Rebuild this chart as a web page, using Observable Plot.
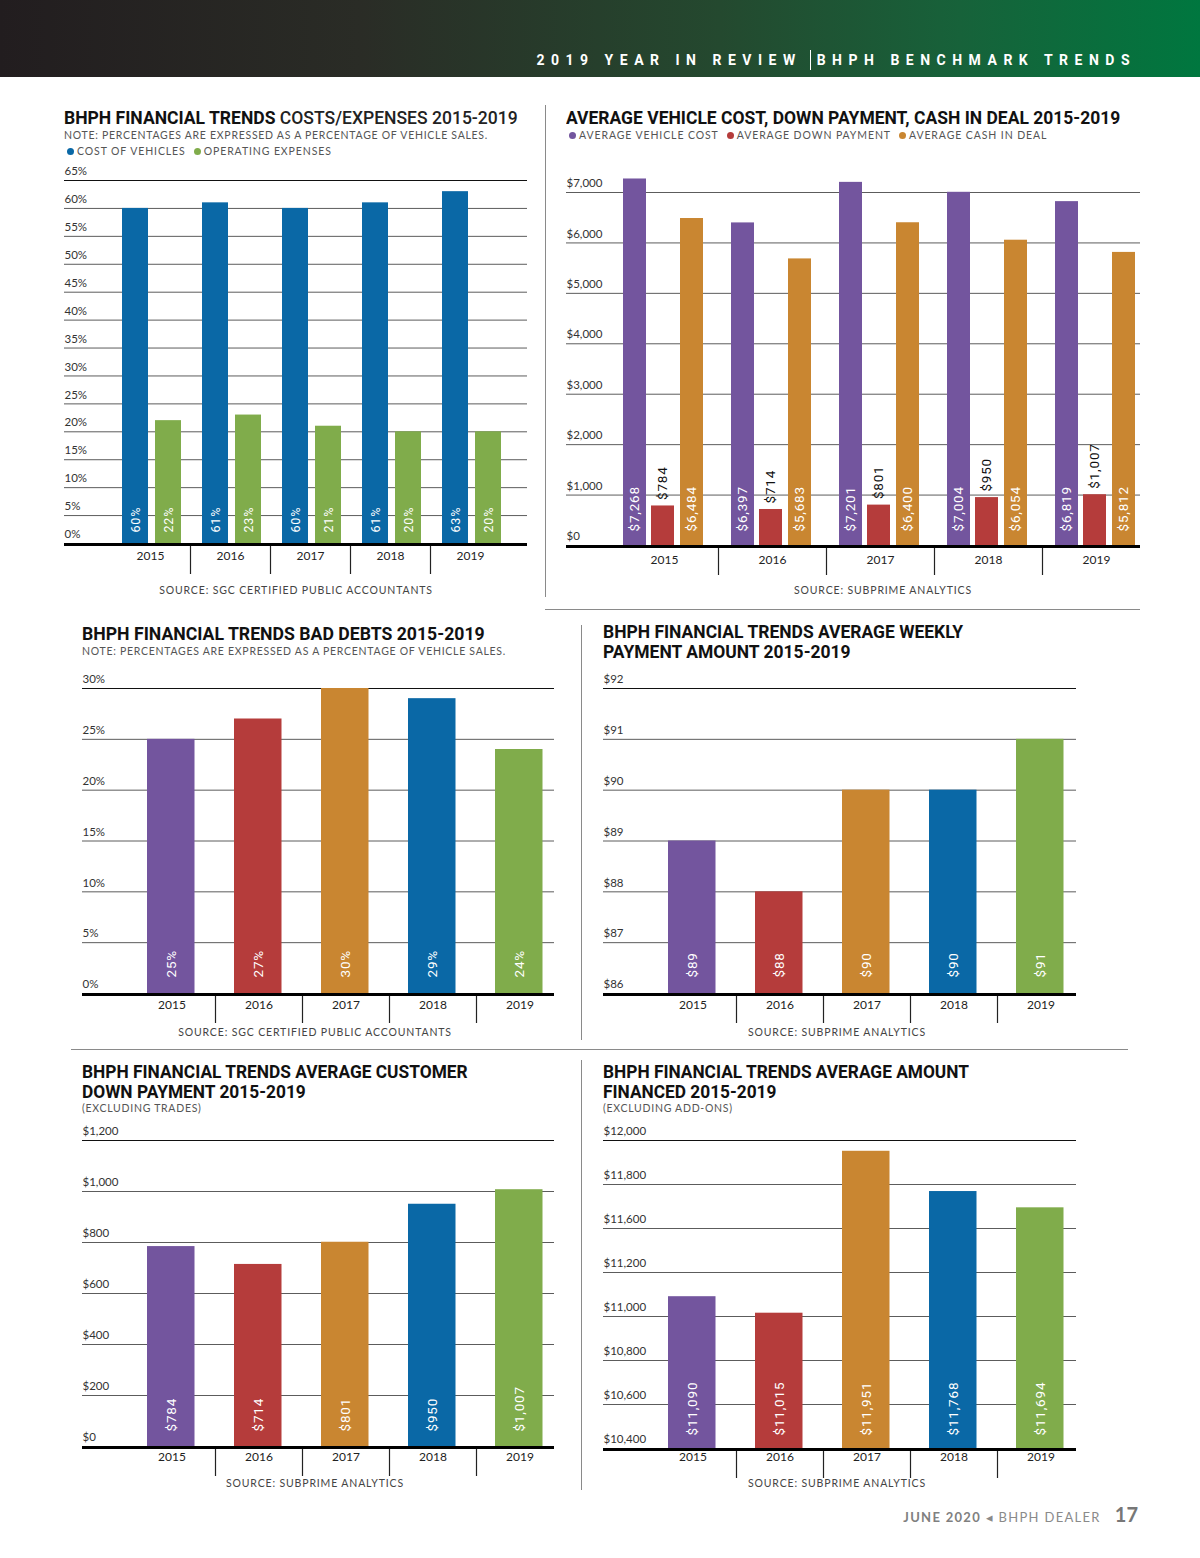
<!DOCTYPE html>
<html><head><meta charset="utf-8">
<script src="https://cdn.jsdelivr.net/npm/d3@7"></script>
<script src="https://cdn.jsdelivr.net/npm/@observablehq/plot@0.6"></script>
<style>
html,body{margin:0;padding:0;background:#fff}
body{width:1200px;height:1558px;position:relative;overflow:hidden;font-family:Lato,"Open Sans",sans-serif}
.abs{position:absolute;white-space:nowrap}
#header{left:0;top:0;width:1200px;height:77px;background:linear-gradient(90deg,#221d1f 0%,#2a2c26 30%,#24492f 60%,#17623a 80%,#00773f 100%)}
#hdrtext{right:64px;top:50px;color:#fff;font-family:Roboto,sans-serif;font-weight:bold;font-size:14px;letter-spacing:6.5px;line-height:16px}
#hdrtext .bar{display:inline-block;width:1px;height:20px;background:#fff;vertical-align:-5px;margin:0 6px 0 -2px}
.title{font-family:Roboto,sans-serif;font-weight:bold;color:#111;font-size:19px;line-height:20px;transform-origin:0 0}
.title .lt{font-weight:500;color:#222}
.note{font-size:10.5px;line-height:11px;color:#555;letter-spacing:0.72px}
.legend{font-size:10.5px;line-height:11px;color:#555;letter-spacing:0.9px}
.dot{display:inline-block;width:7px;height:7px;border-radius:50%;vertical-align:0px;margin-right:3px}
.src{font-size:10.5px;line-height:11px;color:#444;letter-spacing:0.85px;text-align:center}
.line{position:absolute;background:#8a8a8a}
#footer{right:62px;top:1504px;font-size:13px;line-height:20px;color:#8a8a8a;letter-spacing:1.3px}
#footer b{color:#808080}
#footer .pg{font-size:20px;font-weight:bold;color:#777;margin-left:14px;letter-spacing:0}
svg g[font-family*="Roboto"]{letter-spacing:0.8px}
</style></head>
<body>
<div id="header" class="abs"></div>
<div id="hdrtext" class="abs">2019 YEAR IN REVIEW <span class="bar"></span>BHPH BENCHMARK TRENDS</div>

<div class="abs title" data-w="454" style="left:64px;top:108px">BHPH FINANCIAL TRENDS <span class="lt">COSTS/EXPENSES 2015-2019</span></div>
<div class="abs note" style="left:64px;top:130px">NOTE: PERCENTAGES ARE EXPRESSED AS A PERCENTAGE OF VEHICLE SALES.</div>
<div class="abs legend" id="legend1" style="left:67px;top:146px"></div>
<div class="abs src" style="left:96px;width:400px;top:585px">SOURCE: SGC CERTIFIED PUBLIC ACCOUNTANTS</div>

<div class="abs title" data-w="554" style="left:566px;top:108px">AVERAGE VEHICLE COST, DOWN PAYMENT, CASH IN DEAL 2015-2019</div>
<div class="abs legend" id="legend2" style="left:569px;top:130px"></div>
<div class="abs src" style="left:683px;width:400px;top:585px">SOURCE: SUBPRIME ANALYTICS</div>

<div class="abs title" data-w="403" style="left:82px;top:624px;font-size:18px">BHPH FINANCIAL TRENDS BAD DEBTS 2015-2019</div>
<div class="abs note" style="left:82px;top:646px">NOTE: PERCENTAGES ARE EXPRESSED AS A PERCENTAGE OF VEHICLE SALES.</div>
<div class="abs src" style="left:115px;width:400px;top:1027px">SOURCE: SGC CERTIFIED PUBLIC ACCOUNTANTS</div>

<div class="abs title" data-w="360" style="left:603px;top:622px;font-size:18px">BHPH FINANCIAL TRENDS AVERAGE WEEKLY<br>PAYMENT AMOUNT 2015-2019</div>
<div class="abs src" style="left:637px;width:400px;top:1027px">SOURCE: SUBPRIME ANALYTICS</div>

<div class="abs title" data-w="386" style="left:82px;top:1062px;font-size:18px">BHPH FINANCIAL TRENDS AVERAGE CUSTOMER<br>DOWN PAYMENT 2015-2019</div>
<div class="abs note" style="left:82px;top:1103px">(EXCLUDING TRADES)</div>
<div class="abs src" style="left:115px;width:400px;top:1478px">SOURCE: SUBPRIME ANALYTICS</div>

<div class="abs title" data-w="366" style="left:603px;top:1062px;font-size:18px">BHPH FINANCIAL TRENDS AVERAGE AMOUNT<br>FINANCED 2015-2019</div>
<div class="abs note" style="left:603px;top:1103px">(EXCLUDING ADD-ONS)</div>
<div class="abs src" style="left:637px;width:400px;top:1478px">SOURCE: SUBPRIME ANALYTICS</div>

<div class="line" style="left:545px;top:105px;width:1px;height:492px"></div>
<div class="line" style="left:545px;top:609px;width:595px;height:1px"></div>
<div class="line" style="left:581px;top:625px;width:1px;height:415px"></div>
<div class="line" style="left:71px;top:1049px;width:1057px;height:1px"></div>
<div class="line" style="left:581px;top:1060px;width:1px;height:430px"></div>

<div id="footer" class="abs"><b>JUNE 2020</b> &#9666; BHPH DEALER<span class="pg">17</span></div>

<script>
// ---------- DATA ----------
const years = ["2015", "2016", "2017", "2018", "2019"];

// Chart 1: costs / expenses (% of vehicle sales)
const costSeries = ["COST OF VEHICLES", "OPERATING EXPENSES"];
const costOfVehicles = [60, 61, 60, 61, 63];
const operatingExpenses = [22, 23, 21, 20, 20];
const pctTicks1 = [0, 5, 10, 15, 20, 25, 30, 35, 40, 45, 50, 55, 60, 65];

// Chart 2: vehicle cost, down payment, cash in deal
const dealSeries = ["AVERAGE VEHICLE COST", "AVERAGE DOWN PAYMENT", "AVERAGE CASH IN DEAL"];
const avgVehicleCost = [7268, 6397, 7201, 7004, 6819];
const avgDownPayment = [784, 714, 801, 950, 1007];
const avgCashInDeal = [6484, 5683, 6400, 6054, 5812];
const dollarTicks2 = [0, 1000, 2000, 3000, 4000, 5000, 6000, 7000];

// Chart 3: bad debts
const badDebts = [25, 27, 30, 29, 24];
const pctTicks3 = [0, 5, 10, 15, 20, 25, 30];

// Chart 4: weekly payment
const weeklyPayment = [89, 88, 90, 90, 91];
const weeklyTicks = [86, 87, 88, 89, 90, 91, 92];

// Chart 5: customer down payment
const customerDownPayment = [784, 714, 801, 950, 1007];
const downTicks = [0, 200, 400, 600, 800, 1000, 1200];

// Chart 6: amount financed (axis labels as printed, evenly spaced)
const amountFinanced = [11090, 11015, 11951, 11768, 11694];
const financedTicks = [10400, 10600, 10800, 11000, 11200, 11600, 11800, 12000];

// ---------- STYLE ----------
const BLUE = "#0a68a6", GREEN = "#80ac4b", PURPLE = "#73559e", RED = "#b53c3b", ORANGE = "#c98631";
const yearColors = [PURPLE, RED, ORANGE, BLUE, GREEN];
const LABELFONT = "Roboto, sans-serif";
const fmtDollar = d3.format("$,");

function legend(id, names, colors) {
  const el = document.getElementById(id);
  el.innerHTML = names.map((n, i) =>
    `<span style="margin-right:8px"><span class="dot" style="background:${colors[i]}"></span>${n}</span>`).join("");
}
legend("legend1", costSeries, [BLUE, GREEN]);
legend("legend2", dealSeries, [PURPLE, RED, ORANGE]);

function fitTitles() {
  document.querySelectorAll(".title[data-w]").forEach(el => {
    const w = el.offsetWidth;
    if (w > 0) el.style.transform = `scaleX(${(+el.dataset.w / w).toFixed(4)})`;
  });
}
fitTitles();
if (document.fonts) document.fonts.ready.then(fitTitles);

function place(svg, left, top) {
  svg.style.position = "absolute";
  svg.style.left = left + "px";
  svg.style.top = top + "px";
  document.body.appendChild(svg);
}

// shared frame marks: gridlines, tick labels, baseline, year labels, separators
function frame({ticks, fmt, half, yearDy, sepLen, topColor = "#111"}) {
  const base = ticks[0];
  return [
    Plot.ruleY(ticks.slice(1, -1), {y: d => d, stroke: "#5c5c5c", strokeWidth: 1}),
    Plot.ruleY(ticks.slice(-1), {y: d => d, stroke: topColor, strokeWidth: 1.2}),
    Plot.text(ticks, {y: d => d, text: d => fmt(d), frameAnchor: "left", textAnchor: "start",
      dy: -9, fontSize: 11.5, fill: "#333"}),
    Plot.text(years, {x: d => d, y: () => base, dy: yearDy, fontSize: 12, fill: "#222"}),
    Plot.ruleX(years.slice(0, -1), {x: d => d, dx: half, y1: () => base, y2: () => base,
      insetBottom: -sepLen, stroke: "#222", strokeWidth: 1.2})
  ];
}
function baseline(v) {
  return Plot.ruleY([v], {y: d => d, stroke: "#000", strokeWidth: 3, dy: 1});
}
const plotStyle = {fontFamily: "Lato, 'Open Sans', sans-serif", background: "transparent", overflow: "visible"};

// ---------- CHART 1 ----------
{
  const data = years.map((year, i) => ({year, cost: costOfVehicles[i], ops: operatingExpenses[i]}));
  const svg = Plot.plot({
    width: 490, height: 430, marginLeft: 10, marginRight: 17, marginTop: 20, marginBottom: 47,
    style: plotStyle,
    x: {domain: years, range: [56, 456], padding: 0, axis: null},
    y: {domain: [0, 65], axis: null},
    marks: [
      ...frame({ticks: pctTicks1, fmt: d => d + "%", half: 40, yearDy: 13, sepLen: 31}),
      Plot.barY(data, {x: "year", y: "cost", fill: BLUE, insetLeft: 12, insetRight: 42}),
      Plot.barY(data, {x: "year", y: "ops", fill: GREEN, insetLeft: 45, insetRight: 9}),
      Plot.text(data, {x: "year", y: () => 0, text: d => d.cost + "%", rotate: -90, textAnchor: "start",
        dx: -15, dy: -11, fill: "#fff", fontFamily: LABELFONT, fontSize: 12.5}),
      Plot.text(data, {x: "year", y: () => 0, text: d => d.ops + "%", rotate: -90, textAnchor: "start",
        dx: 18, dy: -11, fill: "#fff", fontFamily: LABELFONT, fontSize: 12.5}),
      baseline(0)
    ]
  });
  place(svg, 54, 160);
}

// ---------- CHART 2 ----------
{
  const data = years.map((year, i) => ({year, cost: avgVehicleCost[i], down: avgDownPayment[i], cash: avgCashInDeal[i]}));
  const svg = Plot.plot({
    width: 594, height: 430, marginLeft: 10, marginRight: 10, marginTop: 32, marginBottom: 45,
    style: plotStyle,
    x: {domain: years, range: [54, 594], padding: 0, axis: null},
    y: {domain: [0, 7000], axis: null},
    marks: [
      ...frame({ticks: dollarTicks2, fmt: fmtDollar, half: 54, yearDy: 15, sepLen: 30, topColor: "#5c5c5c"}),
      Plot.barY(data, {x: "year", y: "cost", fill: PURPLE, insetLeft: 13, insetRight: 72}),
      Plot.barY(data, {x: "year", y: "down", fill: RED, insetLeft: 41, insetRight: 44}),
      Plot.barY(data, {x: "year", y: "cash", fill: ORANGE, insetLeft: 70, insetRight: 15}),
      Plot.text(data, {x: "year", y: () => 0, text: d => fmtDollar(d.cost), rotate: -90, textAnchor: "start",
        dx: -29.5, dy: -14, fill: "#fff", fontFamily: LABELFONT, fontSize: 13.5}),
      Plot.text(data, {x: "year", y: "down", text: d => fmtDollar(d.down), rotate: -90, textAnchor: "start",
        dx: -1.5, dy: -6, fill: "#111", fontFamily: LABELFONT, fontSize: 13.5}),
      Plot.text(data, {x: "year", y: () => 0, text: d => fmtDollar(d.cash), rotate: -90, textAnchor: "start",
        dx: 27.5, dy: -14, fill: "#fff", fontFamily: LABELFONT, fontSize: 13.5}),
      baseline(0)
    ]
  });
  place(svg, 556, 160);
}

// ---------- single-series charts ----------
function single({values, ticks, fmt, label, left, top, marginTop, marginBottom, yearDy, sepLen, labelDy, even = false}) {
  const data = years.map((year, i) => ({year, value: values[i], color: yearColors[i]}));
  const height = 380;
  const y0 = ticks[0];
  const bottom = height - marginBottom;
  const step = (bottom - marginTop) / (ticks.length - 1);
  // even: piecewise-linear scale so the printed ticks are evenly spaced
  const yScale = even
    ? {type: "linear", domain: ticks, range: ticks.map((d, i) => bottom - i * step), axis: null}
    : {domain: [y0, ticks[ticks.length - 1]], axis: null};
  const svg = Plot.plot({
    width: 500, height, marginLeft: 10, marginRight: left > 500 ? 17 : 18, marginTop, marginBottom,
    style: plotStyle,
    x: {domain: years, range: [56, 491], padding: 0, axis: null},
    y: yScale,
    marks: [
      ...frame({ticks, fmt, half: 43.5, yearDy, sepLen}),
      Plot.barY(data, {x: "year", y1: () => y0, y2: "value", fill: "color", insetLeft: 19, insetRight: 20.5}),
      Plot.text(data, {x: "year", y: () => y0, text: d => label(d.value), rotate: -90, textAnchor: "start",
        dx: -0.5, dy: labelDy, fill: "#fff", fontFamily: LABELFONT, fontSize: 13.5}),
      baseline(y0)
    ]
  });
  place(svg, left, top);
}

single({values: badDebts, ticks: pctTicks3, fmt: d => d + "%", label: v => v + "%",
  left: 72, top: 660, marginTop: 28, marginBottom: 47, yearDy: 12, sepLen: 30, labelDy: -16});
single({values: weeklyPayment, ticks: weeklyTicks, fmt: d => "$" + d, label: v => "$" + v,
  left: 593, top: 660, marginTop: 28, marginBottom: 47, yearDy: 12, sepLen: 30, labelDy: -16});
single({values: customerDownPayment, ticks: downTicks, fmt: fmtDollar, label: v => fmtDollar(v),
  left: 72, top: 1110, marginTop: 30, marginBottom: 44, yearDy: 11, sepLen: 30, labelDy: -15});
single({values: amountFinanced, ticks: financedTicks, fmt: fmtDollar, label: v => fmtDollar(v),
  left: 593, top: 1110, marginTop: 30, marginBottom: 42, yearDy: 9, sepLen: 30, labelDy: -13, even: true});
</script>
</body></html>
